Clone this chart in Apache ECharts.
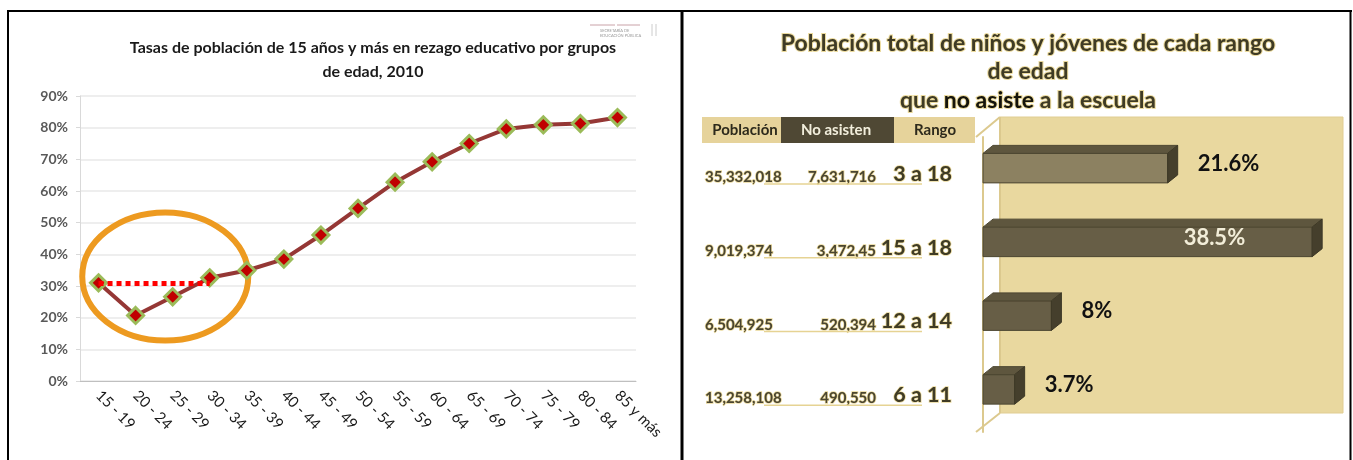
<!DOCTYPE html>
<html>
<head>
<meta charset="utf-8">
<script src="https://cdn.jsdelivr.net/npm/echarts@6/dist/echarts.min.js"></script>
<style>
html, body { margin: 0; padding: 0; background: #fff; }
#chart { width: 1353px; height: 460px; }
</style>
</head>
<body>
<div id="chart"></div>
<script>
// left chart data
const ageGroups = ['15 - 19', '20 - 24', '25 - 29', '30 - 34', '35 - 39', '40 - 44', '45 - 49', '50 - 54',
  '55 - 59', '60 - 64', '65 - 69', '70 - 74', '75 - 79', '80 - 84', '85 y más']
const rezagoRates = [31.0, 20.7, 26.6, 32.6, 34.9, 38.5, 46.1, 54.5, 62.8, 69.2, 75.0, 79.6, 80.9, 81.3, 83.2]
const rateMax = 90
const rateStep = 10

// right chart data
const ranges = ['3 a 18', '15 a 18', '12 a 14', '6 a 11']
const totalPop = ['35,332,018', '9,019,374', '6,504,925', '13,258,108']
const notAttending = ['7,631,716', '3,472,45', '520,394', '490,550']
const notAttendingPct = [21.6, 38.5, 8, 3.7]
const pctLabels = ['21.6%', '38.5%', '8%', '3.7%']
const highlightIndex = 0

const FONT = 'Lato, "Open Sans", sans-serif'
const OLIVE = '#3f3b25'
const BEIGE = '#E6D39B'
const WALL = '#E9D89F'
const EDGE = '#DCC98E'
const GLOW = 'rgba(232,212,140,0.85)'

const chart = echarts.init(document.getElementById('chart'))

const renderBar = (params, api) => {
  const idx = api.value(1)
  const val = api.value(0)
  const start = api.coord([0, idx])
  const end = api.coord([val, idx])
  const yT = start[1] - 20.5
  const h = 29.5
  const yB = yT + h
  const x0 = start[0]
  const x1 = end[0]
  const dx = 10
  const dy = 8
  const front = idx === highlightIndex ? '#8C8161' : '#675E46'
  const inside = x1 - x0 > 250
  return {
    type: 'group',
    children: [
      { type: 'rect', shape: { x: x0, y: yT, width: x1 - x0, height: h }, style: { fill: front, stroke: '#4d4732', lineWidth: 1 } },
      { type: 'polygon', shape: { points: [[x0, yT], [x1, yT], [x1 + dx, yT - dy], [x0 + dx, yT - dy]] }, style: { fill: '#5E563E', stroke: '#4d4732', lineWidth: 1 } },
      { type: 'polygon', shape: { points: [[x1, yT], [x1 + dx, yT - dy], [x1 + dx, yB - dy], [x1, yB]] }, style: { fill: '#453F2C', stroke: '#3d3826', lineWidth: 1 } },
      {
        type: 'text',
        style: {
          text: pctLabels[idx],
          x: inside ? x1 - 67 : x1 + dx + 20,
          y: start[1] - 10,
          align: inside ? 'right' : 'left',
          verticalAlign: 'middle',
          fill: inside ? '#F2EDD8' : '#111',
          fontSize: 22,
          fontWeight: 'bold',
          fontFamily: FONT
        }
      }
    ]
  }
}

const option = {
  animation: false,
  title: [
    {
      text: 'Tasas de población de 15 años y más en rezago educativo por grupos\nde edad, 2010',
      left: 368,
      top: 31,
      textAlign: 'center',
      textStyle: { fontSize: 16, fontWeight: 'bold', color: '#1a1a1a', fontFamily: FONT, lineHeight: 24 }
    },
    {
      text: '{a|Población total de niños y jóvenes de cada rango}\n{a|de edad}\n{a|que }{b|no asiste}{a| a la escuela}',
      left: 1023,
      top: 24,
      textAlign: 'center',
      textStyle: {
        rich: {
          a: { fontSize: 23, fontWeight: 'bold', color: OLIVE, fontFamily: FONT, lineHeight: 28.5,
            textBorderColor: GLOW, textBorderWidth: 2 },
          b: { fontSize: 23, fontWeight: 'bold', color: '#15140c', fontFamily: FONT, lineHeight: 28.5,
            textBorderColor: GLOW, textBorderWidth: 2 }
        }
      }
    }
  ],
  grid: [
    { left: 80, top: 96, width: 556, height: 285 },
    { left: 976, top: 137, width: 343, height: 295 }
  ],
  xAxis: [
    {
      gridIndex: 0,
      type: 'category',
      data: ageGroups,
      axisLine: { lineStyle: { color: '#BFBFBF' } },
      axisTick: { length: 5, lineStyle: { color: '#BFBFBF' } },
      axisLabel: { interval: 0, rotate: -45, margin: 12, fontSize: 15, color: '#1a1a1a', fontFamily: FONT }
    },
    { gridIndex: 1, type: 'value', min: -0.82, max: 39.3, show: false }
  ],
  yAxis: [
    {
      gridIndex: 0,
      type: 'value',
      min: 0,
      max: rateMax,
      interval: rateStep,
      axisLine: { show: true, lineStyle: { color: '#D9D9D9' } },
      axisTick: { show: true, length: 4, lineStyle: { color: '#D9D9D9' } },
      axisLabel: { formatter: '{value}%', margin: 12, fontSize: 14, fontWeight: 'bold', color: '#595959', fontFamily: FONT },
      splitLine: { lineStyle: { color: '#E8E8E8', width: 1.5 } }
    },
    {
      gridIndex: 1,
      type: 'category',
      data: ranges,
      inverse: true,
      axisLine: { lineStyle: { color: EDGE, width: 2 } },
      axisTick: { length: 8, lineStyle: { color: EDGE, width: 2 } },
      splitLine: { show: false },
      axisLabel: {
        margin: 24,
        formatter: (value, i) => `{pop|${totalPop[i]}}{no|${notAttending[i]}}{rng|${value}}`,
        rich: {
          pop: { width: 95, align: 'left', verticalAlign: 'bottom', fontSize: 15, fontWeight: 'bold', color: '#4a4530', fontFamily: FONT,
            textBorderColor: GLOW, textBorderWidth: 1.5 },
          no: { width: 76, align: 'right', verticalAlign: 'bottom', fontSize: 15, fontWeight: 'bold', color: '#4a4530', fontFamily: FONT,
            textBorderColor: GLOW, textBorderWidth: 1.5 },
          rng: { width: 76, align: 'right', verticalAlign: 'bottom', fontSize: 21.5, fontWeight: 'bold', color: OLIVE, fontFamily: FONT,
            textBorderColor: GLOW, textBorderWidth: 1.5 }
        }
      }
    }
  ],
  series: [
    {
      type: 'line',
      xAxisIndex: 0,
      yAxisIndex: 0,
      data: rezagoRates,
      symbol: 'diamond',
      symbolSize: 16,
      z: 3,
      lineStyle: { color: '#953735', width: 4 },
      itemStyle: { color: '#C00000', borderColor: '#9BBB59', borderWidth: 3 },
      markLine: {
        silent: true,
        symbol: 'none',
        label: { show: false },
        lineStyle: { color: '#FF0000', type: [5, 4], width: 5 },
        data: [[{ coord: [ageGroups[0], rezagoRates[0]] }, { coord: [ageGroups[3], rezagoRates[0]] }]]
      }
    },
    {
      type: 'custom',
      xAxisIndex: 1,
      yAxisIndex: 1,
      z: 3,
      data: notAttendingPct.map((v, i) => [v, i]),
      encode: { x: 0, y: 1 },
      renderItem: renderBar
    }
  ]
}

chart.setOption(option)

// decorations built from the grids after layout
const line = (x1, y1, x2, y2, stroke, lineWidth, z) => ({
  type: 'line', z: z ?? 5, shape: { x1, y1, x2, y2 }, style: { stroke, lineWidth }
})
const label = (text, x, y, fill, fontSize) => ({
  type: 'text', z: 6,
  style: { text, x, y, fill, fontSize, fontWeight: 'bold', fontFamily: FONT, align: 'center', verticalAlign: 'middle',
    textAlign: 'center', textVerticalAlign: 'middle' }
})

const step = 556 / ageGroups.length
const c = chart.convertToPixel({ xAxisIndex: 0, yAxisIndex: 0 }, [1, 33])
const graphics = [
  // frame
  line(7, 11, 1352, 11, '#000', 2),
  line(8, 10, 8, 460, '#000', 2),
  line(682, 10, 682, 460, '#000', 3),
  line(1350.5, 10, 1350.5, 460, '#000', 2),
  // orange highlight
  {
    type: 'ellipse', z: 1,
    shape: { cx: c[0] + 0.8 * step, cy: c[1], rx: 83, ry: 64 },
    style: { fill: 'none', stroke: '#ED9A20', lineWidth: 6 }
  },
  // logo
  line(590, 25, 615, 25, '#c9a2a8', 1),
  line(617, 25, 640, 25, '#c9a2a8', 1),
  {
    type: 'text', z: 5,
    style: { text: 'SECRETARÍA DE\nEDUCACIÓN PÚBLICA', x: 600, y: 28, fill: '#999', fontSize: 4, fontFamily: FONT, lineHeight: 5 }
  },
  line(652, 24, 652, 36, '#ccc', 1),
  line(656, 24, 656, 36, '#ccc', 1),
  // 3D back wall
  { type: 'rect', z: 0, shape: { x: 1000, y: 117, width: 343, height: 296 }, style: { fill: WALL, stroke: '#E0CD92', lineWidth: 1 } },
  line(1000, 117, 1000, 413, EDGE, 2, 1),
  line(976, 137, 1000, 117, EDGE, 2, 1),
  line(976, 432, 1000, 413, EDGE, 2, 1),
  // table header
  { type: 'rect', z: 5, shape: { x: 702, y: 117, width: 79, height: 26 }, style: { fill: BEIGE } },
  { type: 'rect', z: 5, shape: { x: 781, y: 117, width: 113, height: 26 }, style: { fill: '#4F4834' } },
  { type: 'rect', z: 5, shape: { x: 894, y: 117, width: 81, height: 26 }, style: { fill: BEIGE } },
  label('Población', 745, 130, '#2d2a1c', 15),
  label('No asisten', 836, 130, '#F2EEDC', 15),
  label('Rango', 935, 130, '#2d2a1c', 15)
]
ranges.forEach((r) => {
  const y = chart.convertToPixel({ yAxisIndex: 1 }, r) + 10
  graphics.push(line(764, y, 922, y, '#E6D393', 1.5))
})

chart.setOption({ graphic: graphics })
window.addEventListener('resize', () => chart.resize())
</script>
</body>
</html>
